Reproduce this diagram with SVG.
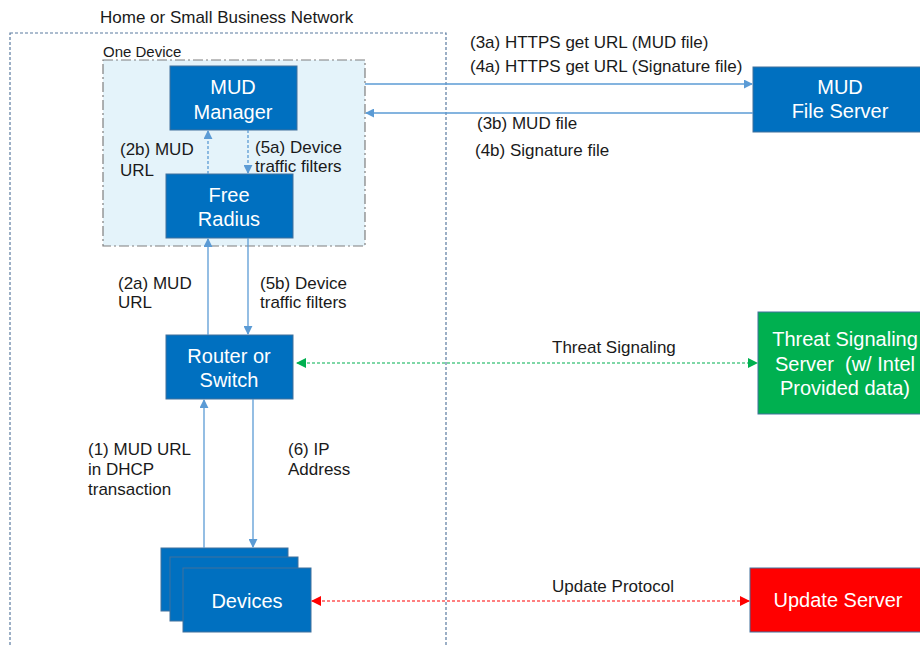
<svg xmlns="http://www.w3.org/2000/svg" width="920" height="646" viewBox="0 0 920 646">
<style>
.lbl{font-family:"Liberation Sans",Arial,sans-serif;font-size:17px;fill:#1a1a1a}
.nt{font-family:"Liberation Sans",Arial,sans-serif;font-size:20px;fill:#ffffff;text-anchor:middle}
.box{fill:#0070C0;stroke:#41719C;stroke-width:1}
.conn{stroke:#5B9BD5;stroke-width:1.3;fill:none}
.dash{stroke-dasharray:3,2}
</style>
<defs>
<marker id="ab" viewBox="0 0 10 10" refX="9" refY="5" markerWidth="9" markerHeight="9" markerUnits="userSpaceOnUse" orient="auto-start-reverse"><path d="M0,0 L10,5 L0,10 z" fill="#5B9BD5"/></marker>
<marker id="ag" viewBox="0 0 10 10" refX="9" refY="5" markerWidth="10" markerHeight="10" markerUnits="userSpaceOnUse" orient="auto-start-reverse"><path d="M0,0 L10,5 L0,10 z" fill="#00B050"/></marker>
<marker id="ar" viewBox="0 0 10 10" refX="9" refY="5" markerWidth="10" markerHeight="10" markerUnits="userSpaceOnUse" orient="auto-start-reverse"><path d="M0,0 L10,5 L0,10 z" fill="#FF0000"/></marker>
</defs>
<rect width="920" height="646" fill="#ffffff"/>

<g id="network">
<rect x="10" y="33" width="436" height="630" fill="none" stroke="#5A7BA0" stroke-width="1.2" stroke-dasharray="3,2"/>
<text class="lbl" x="100" y="23">Home or Small Business Network</text>
</g>

<g id="one-device">
<rect x="103" y="60" width="262" height="186" fill="#E4F3FA" stroke="#7F7F7F" stroke-width="1.2" stroke-dasharray="10,3,2,3"/>
<text class="lbl" x="103" y="57" style="font-size:15px">One Device</text>
</g>

<g id="mud-manager">
<rect class="box" x="170" y="66" width="127" height="64"/>
<text class="nt" x="233" y="94">MUD</text>
<text class="nt" x="233" y="119">Manager</text>
</g>

<g id="free-radius">
<rect class="box" x="166" y="174" width="127" height="64"/>
<text class="nt" x="229" y="202">Free</text>
<text class="nt" x="229" y="226">Radius</text>
</g>

<g id="router">
<rect class="box" x="166" y="335" width="127" height="64"/>
<text class="nt" x="229" y="363">Router or</text>
<text class="nt" x="229" y="387">Switch</text>
</g>

<g id="devices">
<rect class="box" x="161" y="548" width="127" height="63"/>
<rect class="box" x="170" y="557" width="128" height="64"/>
<rect class="box" x="183" y="568" width="128" height="64"/>
<text class="nt" x="247" y="608">Devices</text>
</g>

<g id="mud-file-server">
<rect class="box" x="753" y="67" width="175" height="65"/>
<text class="nt" x="840" y="94">MUD</text>
<text class="nt" x="840" y="118">File Server</text>
</g>

<g id="threat-server">
<rect x="758" y="312" width="175" height="102" fill="#00B050" stroke="#41719C" stroke-width="1"/>
<text class="nt" x="845" y="346">Threat Signaling</text>
<text class="nt" x="845" y="371" xml:space="preserve">Server  (w/ Intel</text>
<text class="nt" x="845" y="395">Provided data)</text>
</g>

<g id="update-server">
<rect x="750" y="568" width="178" height="64" fill="#FF0000" stroke="#41719C" stroke-width="1"/>
<text class="nt" x="838" y="607">Update Server</text>
</g>

<g id="connectors">
<line class="conn dash" x1="208" y1="174" x2="208" y2="131" marker-end="url(#ab)"/>
<line class="conn dash" x1="248" y1="130" x2="248" y2="173" marker-end="url(#ab)"/>
<line class="conn" x1="208" y1="335" x2="208" y2="239" marker-end="url(#ab)"/>
<line class="conn" x1="248" y1="238" x2="248" y2="334" marker-end="url(#ab)"/>
<line class="conn" x1="204" y1="548" x2="204" y2="400" marker-end="url(#ab)"/>
<line class="conn" x1="253" y1="399" x2="253" y2="547" marker-end="url(#ab)"/>
<line class="conn" x1="365" y1="84" x2="752" y2="84" marker-end="url(#ab)"/>
<line class="conn" x1="753" y1="113" x2="366" y2="113" marker-end="url(#ab)"/>
<line x1="297" y1="363" x2="757" y2="363" stroke="#00B050" stroke-width="1.2" stroke-dasharray="3,2" marker-start="url(#ag)" marker-end="url(#ag)"/>
<line x1="312" y1="601" x2="749" y2="601" stroke="#FF0000" stroke-width="1.2" stroke-dasharray="3,2" marker-start="url(#ar)" marker-end="url(#ar)"/>
</g>

<g id="labels">
<text class="lbl" x="120" y="155">(2b) MUD</text>
<text class="lbl" x="120" y="176">URL</text>
<text class="lbl" x="255" y="153">(5a) Device</text>
<text class="lbl" x="255" y="172">traffic filters</text>
<text class="lbl" x="118" y="289">(2a) MUD</text>
<text class="lbl" x="118" y="308">URL</text>
<text class="lbl" x="260" y="289">(5b) Device</text>
<text class="lbl" x="260" y="308">traffic filters</text>
<text class="lbl" x="88" y="455">(1) MUD URL</text>
<text class="lbl" x="88" y="475">in DHCP</text>
<text class="lbl" x="88" y="495">transaction</text>
<text class="lbl" x="288" y="455">(6) IP</text>
<text class="lbl" x="288" y="475">Address</text>
<text class="lbl" x="470" y="48">(3a) HTTPS get URL (MUD file)</text>
<text class="lbl" x="470" y="72">(4a) HTTPS get URL (Signature file)</text>
<text class="lbl" x="477" y="129">(3b) MUD file</text>
<text class="lbl" x="475" y="156">(4b) Signature file</text>
<text class="lbl" x="552" y="353">Threat Signaling</text>
<text class="lbl" x="552" y="592">Update Protocol</text>
</g>
</svg>
